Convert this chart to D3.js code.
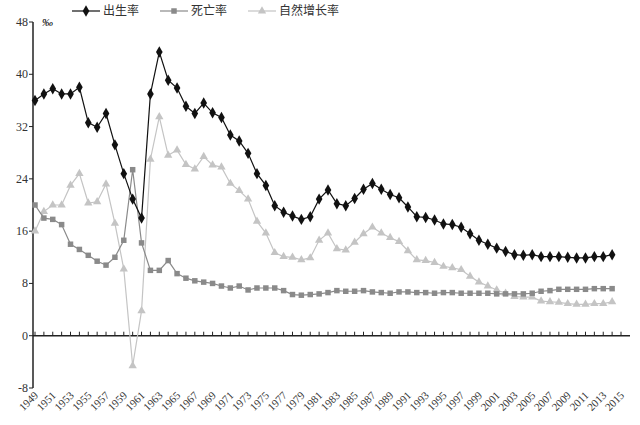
<!DOCTYPE html>
<html><head><meta charset="utf-8">
<script src="https://cdn.jsdelivr.net/npm/d3@7"></script>
<style>body{margin:0;background:#fff}text{font-family:"Liberation Serif","Noto Sans CJK SC",serif}</style>
</head><body><svg id="c" width="640" height="425"></svg>
<script>
const years = d3.range(1949, 2015);
const birthRate = [36.0,37.0,37.8,37.0,37.0,38.0,32.6,31.9,34.0,29.2,24.8,20.9,18.0,37.0,43.4,39.1,37.9,35.1,34.0,35.6,34.1,33.4,30.7,29.8,27.9,24.8,23.0,19.9,18.9,18.3,17.8,18.2,20.9,22.3,20.2,19.9,21.0,22.4,23.3,22.4,21.6,21.1,19.7,18.2,18.1,17.7,17.1,17.0,16.6,15.6,14.6,14.0,13.4,12.9,12.4,12.3,12.4,12.1,12.1,12.1,12.0,11.9,11.9,12.1,12.1,12.4];
const deathRate = [20.0,18.0,17.8,17.0,14.0,13.2,12.3,11.4,10.8,12.0,14.6,25.4,14.2,10.0,10.0,11.5,9.5,8.8,8.4,8.2,8.0,7.6,7.3,7.6,7.0,7.3,7.3,7.3,6.9,6.3,6.2,6.3,6.4,6.6,6.9,6.8,6.8,6.9,6.7,6.6,6.5,6.7,6.7,6.6,6.6,6.5,6.6,6.6,6.5,6.5,6.5,6.5,6.4,6.4,6.4,6.4,6.5,6.8,6.9,7.1,7.1,7.1,7.1,7.2,7.2,7.2];
const growthRate = [16.0,19.0,20.0,20.0,23.0,24.8,20.3,20.5,23.2,17.2,10.2,-4.6,3.8,27.0,33.5,27.6,28.4,26.2,25.5,27.4,26.1,25.8,23.3,22.2,20.9,17.5,15.7,12.7,12.1,12.0,11.6,11.9,14.6,15.7,13.3,13.1,14.3,15.6,16.6,15.7,15.0,14.4,13.0,11.6,11.5,11.2,10.6,10.4,10.1,9.1,8.2,7.6,7.0,6.5,6.0,5.9,5.9,5.3,5.2,5.1,4.9,4.8,4.8,4.9,4.9,5.2];
const yTicks = [-8, 0, 8, 16, 24, 32, 40, 48];
const xLabels = d3.range(1949, 2016, 2);

const svg = d3.select("#c");
const x = d3.scaleLinear().domain([1949, 2015]).range([35, 621]);
const y = d3.scaleLinear().domain([-8, 48]).range([388, 22]);
const axisLeft = 33;

const axisG = svg.append("g").attr("fill", "none").attr("stroke", "#222");

// y axis
axisG.append("path").attr("stroke-width", 1.5)
  .attr("d", `M${axisLeft},${y(48)}V${y(-8)}`);
axisG.append("path").attr("d", yTicks.map(t => `M${axisLeft - 4},${y(t)}H${axisLeft}`).join(""));
yTicks.forEach(t => {
  svg.append("text").attr("x", axisLeft - 5).attr("y", y(t) + 4).attr("text-anchor", "end")
    .attr("font-size", 12).attr("fill", "#333").text(t);
});
svg.append("text").attr("x", 42).attr("y", y(48) + 4).attr("font-size", 11).attr("font-style", "italic").text("‰");

// x axis on zero line
axisG.append("path").attr("stroke-width", 1.5).attr("d", `M${axisLeft},${y(0)}H630`);
axisG.append("path").attr("d", d3.range(1949, 2016).map(yr => `M${x(yr)},${y(0)}V${y(0) - 4}`).join(""));
xLabels.forEach(yr => {
  svg.append("text").attr("transform", `translate(${x(yr) + 4},${y(-8) + 8}) rotate(-45)`)
    .attr("text-anchor", "end").attr("font-size", 11).attr("fill", "#333").text(yr);
});

const series = [
  {name: "出生率", values: birthRate, color: "#111", shape: d3.symbolDiamond, size: 38},
  {name: "死亡率", values: deathRate, color: "#8a8a8a", shape: d3.symbolSquare, size: 30},
  {name: "自然增长率", values: growthRate, color: "#c4c4c4", shape: d3.symbolTriangle, size: 30}
];
const lineGen = d3.line().x((d, i) => x(years[i])).y(d => y(d));
[...series].reverse().forEach(s => {
  svg.append("path").attr("d", lineGen(s.values)).attr("fill", "none").attr("stroke", s.color).attr("stroke-width", 1.2);
  svg.append("g").selectAll("path").data(s.values).join("path")
    .attr("transform", (d, i) => `translate(${x(years[i])},${y(d)})`)
    .attr("d", d3.symbol(s.shape, s.size)).attr("fill", s.color);
});

// legend
const legX = [72, 160, 248];
series.forEach((s, i) => {
  const g = svg.append("g").attr("transform", `translate(${legX[i]},11)`);
  g.append("path").attr("d", "M0,0H28").attr("stroke", s.color).attr("stroke-width", 1.2);
  g.append("path").attr("transform", "translate(14,0)").attr("d", d3.symbol(s.shape, s.size)).attr("fill", s.color);
  g.append("text").attr("x", 31).attr("y", 4).attr("font-size", 12).attr("fill", "#333").text(s.name);
});
</script></body></html>
